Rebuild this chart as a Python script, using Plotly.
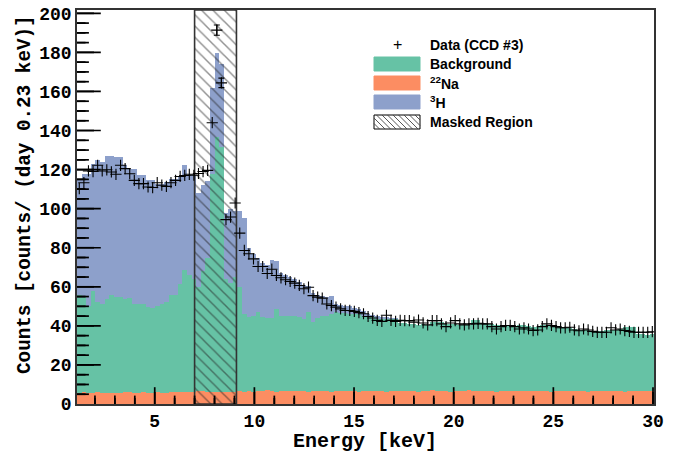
import numpy as np
import plotly.graph_objects as go

# ---------------- data ----------------
E_MIN = 1.1          # keV, lower edge of first bin
BIN_WIDTH = 0.23     # keV
X_MAX = 30.05
Y_MAX = 201.7
MASK_LO, MASK_HI = 7.0, 9.1   # masked energy region (keV)

# measured counts (CCD #3), one value per bin
data_counts = [
    110.3, 113.3, 119.3, 119.0, 122.2, 119.3, 119.9, 118.8, 117.6, 122.2,
    120.5, 117.9, 114.5, 112.8, 112.8, 111.1, 110.8, 113.3, 112.0, 111.4,
    113.3, 114.5, 116.5, 117.0, 117.6, 117.1, 118.0, 119.0, 119.6, 144.0,
    191.4, 164.4, 94.4, 95.7, 102.9, 87.5, 78.6, 76.9, 74.3, 70.4,
    70.4, 66.8, 69.0, 65.8, 64.6, 63.6, 62.7, 61.9, 60.7, 59.0,
    59.8, 55.5, 54.7, 54.2, 51.2, 50.4, 49.6, 48.7, 47.9, 47.9,
    47.4, 46.8, 46.2, 44.8, 44.0, 42.8, 42.3, 45.4, 42.8, 42.3,
    42.8, 42.7, 42.7, 41.9, 43.0, 41.5, 40.5, 42.7, 42.7, 41.0,
    39.6, 41.5, 42.7, 41.0, 40.5, 41.0, 41.0, 41.3, 41.0, 41.0,
    39.6, 38.4, 39.6, 40.2, 40.2, 39.6, 38.4, 39.0, 38.4, 37.6,
    37.9, 39.6, 41.0, 40.2, 39.6, 39.0, 39.0, 39.3, 37.9, 37.5,
    38.4, 37.9, 37.2, 36.7, 36.7, 36.7, 39.0, 37.9, 38.4, 37.6,
    37.2, 36.7, 36.7, 36.7, 36.7, 37.0,
]

# stacked model levels: 22Na (bottom), 22Na+Background, 22Na+Background+3H (top)
na22_level = [
    5.6, 5.9, 5.7, 5.5, 5.9, 5.8, 5.6, 5.8, 5.5, 5.7,
    6.0, 6.4, 5.7, 5.8, 5.9, 5.6, 5.7, 5.9, 5.8, 5.7,
    6.0, 6.3, 6.2, 6.1, 5.9, 6.3, 6.5, 6.6, 6.3, 6.0,
    6.4, 6.2, 6.0, 6.1, 6.3, 6.5, 6.4, 6.6, 6.3, 6.8,
    6.5, 7.0, 6.6, 6.4, 6.9, 6.7, 6.5, 6.8, 6.6, 6.9,
    6.4, 6.7, 6.5, 6.8, 6.6, 6.3, 6.7, 6.9, 6.5, 6.6,
    6.8, 6.4, 6.7, 6.6, 6.9, 6.5, 6.7, 6.4, 6.8, 6.6,
    6.5, 6.8, 6.6, 6.9, 6.4, 6.7, 6.6, 7.0, 6.5, 6.8,
    6.6, 6.4, 6.9, 6.7, 6.5, 7.3, 6.8, 6.6, 6.9, 6.5,
    6.7, 6.4, 6.8, 6.6, 6.9, 6.5, 6.7, 6.6, 6.8, 6.5,
    6.8, 6.6, 6.9, 6.4, 6.7, 6.5, 6.8, 6.6, 6.9, 6.5,
    6.7, 6.4, 6.8, 6.6, 6.9, 6.5, 6.7, 6.6, 6.8, 6.4,
    6.7, 6.5, 6.8, 6.6, 6.9, 6.7,
]

background_level = [
    56.0, 55.0, 50.0, 58.0, 52.0, 51.0, 53.8, 56.0, 55.0, 54.7,
    54.0, 54.4, 51.3, 51.0, 51.0, 49.6, 49.4, 50.0, 51.0, 52.0,
    55.6, 56.0, 61.5, 68.4, 65.8, 64.0, 60.0, 68.0, 75.0, 118.0,
    136.5, 131.5, 64.0, 61.7, 65.0, 60.0, 46.0, 44.5, 45.0, 47.0,
    44.5, 44.0, 44.0, 48.5, 45.0, 45.0, 44.8, 44.8, 44.5, 43.6,
    47.0, 42.0, 44.0, 45.0, 45.2, 46.0, 47.0, 46.5, 46.5, 46.0,
    45.9, 45.9, 44.8, 44.4, 44.4, 43.6, 43.6, 43.6, 43.6, 43.5,
    41.5, 41.5, 41.0, 41.0, 40.5, 41.0, 40.5, 42.0, 42.0, 42.0,
    41.0, 41.0, 41.0, 40.5, 40.5, 40.5, 43.0, 43.0, 41.5, 41.0,
    41.0, 40.5, 40.5, 40.0, 40.0, 40.0, 40.5, 40.5, 40.0, 39.5,
    39.3, 40.2, 40.2, 40.0, 39.3, 39.3, 39.0, 38.9, 38.5, 37.9,
    37.9, 37.8, 37.6, 37.6, 37.5, 37.8, 37.9, 38.0, 38.5, 39.3,
    39.5, 39.6, 36.0, 35.8, 35.5, 35.8,
]

tritium_level = [
    114.5, 117.6, 117.6, 123.0, 124.8, 124.0, 126.8, 126.8, 126.5, 126.5,
    122.2, 120.5, 120.5, 117.0, 117.0, 114.5, 114.5, 112.8, 112.8, 113.7,
    115.4, 115.4, 116.0, 122.2, 117.0, 117.0, 108.0, 112.0, 114.0, 162.0,
    179.5, 174.0, 98.0, 100.0, 99.0, 99.0, 95.0, 80.0, 77.0, 75.0,
    72.0, 71.0, 73.5, 73.0, 67.0, 66.0, 65.0, 64.0, 62.5, 61.0,
    60.5, 57.0, 56.0, 55.5, 55.0, 55.5, 51.0, 50.5, 50.0, 50.0,
    49.0, 48.5, 47.5, 46.0, 45.5, 45.0, 44.5, 44.5, 44.0, 43.8,
    41.5, 41.5, 41.0, 41.0, 40.5, 41.0, 40.5, 42.0, 42.0, 42.0,
    41.0, 41.0, 41.0, 40.5, 40.5, 40.5, 43.0, 43.0, 41.5, 41.0,
    41.0, 40.5, 40.5, 40.0, 40.0, 40.0, 40.5, 40.5, 40.0, 39.5,
    39.3, 40.2, 40.2, 40.0, 39.3, 39.3, 39.0, 38.9, 38.5, 37.9,
    37.9, 37.8, 37.6, 37.6, 37.5, 37.8, 37.9, 38.0, 38.5, 39.3,
    39.5, 39.6, 36.0, 35.8, 35.5, 35.8,
]

EXPOSURE_SCALE = 28.0   # counts -> rate scale used for Poisson error bars

# axis tick positions
X_MAJOR = [5, 10, 15, 20, 25, 30]
X_MINOR = [v for v in range(2, 31) if v not in X_MAJOR]
Y_MAJOR = list(range(20, 201, 20))
Y_MINOR = [v for v in range(5, 201, 5) if v % 20 != 0]

n_bins = len(data_counts)
assert n_bins == len(na22_level) == len(background_level) == len(tritium_level)

centers = E_MIN + BIN_WIDTH * (np.arange(n_bins) + 0.5)
counts_arr = np.array(data_counts)
data_err = np.sqrt(counts_arr / EXPOSURE_SCALE)

W, H = 688, 454
L, R, T, B = 77, 654, 10, 404
PX_PER_Y = (B - T) / Y_MAX
MARKER_SIZE = 8
big_err = data_err * PX_PER_Y > MARKER_SIZE / 2 + 0.5   # error bars sticking out of the marker

C_BKG = "#66c2a5"
C_NA = "#fc8d62"
C_H3 = "#8da0cb"
FRAME = "#333333"
TICK_W = 1.7

fig = go.Figure()
for lvl, col in ((tritium_level, C_H3), (background_level, C_BKG), (na22_level, C_NA)):
    fig.add_trace(go.Bar(x=centers, y=lvl, width=BIN_WIDTH, marker=dict(color=col, line=dict(width=0)),
                         opacity=1, showlegend=False, hoverinfo="skip"))

fig.add_trace(go.Scatter(
    x=[MASK_LO, MASK_HI, MASK_HI, MASK_LO, MASK_LO], y=[0, 0, Y_MAX, Y_MAX, 0],
    mode="lines", fill="toself", fillcolor="rgba(0,0,0,0)",
    fillpattern=dict(shape="\\", size=8, solidity=0.18, fgcolor="#222", bgcolor="rgba(0,0,0,0)"),
    line=dict(color=FRAME, width=1.6), showlegend=False, hoverinfo="skip"))

# ROOT-style tick marks inside the frame: line markers centred on the axis, outer half clipped
def tick_trace(xs, ys, symbol, inner_len):
    return go.Scatter(x=xs, y=ys, mode="markers", cliponaxis=True,
                      marker=dict(symbol=symbol, size=2 * inner_len, color="black",
                                  line=dict(width=TICK_W, color="black")),
                      showlegend=False, hoverinfo="skip")

fig.add_trace(tick_trace(X_MINOR, [0] * len(X_MINOR), "line-ns", 6))
fig.add_trace(tick_trace(X_MAJOR, [0] * len(X_MAJOR), "line-ns", 12))
fig.add_trace(tick_trace([E_MIN] * len(Y_MINOR), Y_MINOR, "line-ew", 8.5))
fig.add_trace(tick_trace([E_MIN] * len(Y_MAJOR), Y_MAJOR, "line-ew", 17))

fig.add_trace(go.Scatter(
    x=centers, y=data_counts, mode="markers",
    marker=dict(symbol="cross-thin", size=MARKER_SIZE, color="black", line=dict(width=1.1, color="black")),
    showlegend=False, hoverinfo="skip"))

fig.add_trace(go.Scatter(
    x=centers[big_err], y=counts_arr[big_err], mode="markers",
    marker=dict(size=1, color="rgba(0,0,0,0)"),
    error_y=dict(type="data", array=data_err[big_err], width=3, thickness=1.2, color="black"),
    showlegend=False, hoverinfo="skip"))

# ---------------- layout ----------------
def px(x):
    return (x - L) / (R - L)

def py(y):
    return (B - y) / (B - T)

tick_font = dict(family="Liberation Mono", size=18, color="black", weight="bold")
xtitle_font = dict(family="Liberation Mono", size=20, color="black", weight="bold")
ytitle_font = dict(family="Liberation Mono", size=19.3, color="black", weight="bold")

common = dict(showgrid=False, zeroline=False, automargin=False, showline=True, mirror=True,
              linecolor=FRAME, linewidth=1.6, tickfont=tick_font, ticks="")

fig.update_layout(
    width=W, height=H, margin=dict(l=L, r=W - R, t=T, b=H - B, autoexpand=False),
    paper_bgcolor="white", plot_bgcolor="white",
    barmode="overlay", bargap=0, showlegend=False,
    xaxis=dict(range=[E_MIN, X_MAX], tickvals=X_MAJOR, **common),
    yaxis=dict(range=[0, Y_MAX], tick0=0, dtick=20, **common),
)

shapes = []

# same tick marks again as paper-referenced line shapes (drawn above everything)
def x_frac(v):
    return (v - E_MIN) / (X_MAX - E_MIN)

for v in X_MINOR + X_MAJOR:
    ln = 12 if v in X_MAJOR else 6
    shapes.append(dict(type="line", xref="paper", yref="paper", x0=x_frac(v), x1=x_frac(v),
                       y0=0, y1=ln / (B - T), line=dict(color="black", width=TICK_W)))
for v in Y_MINOR + Y_MAJOR:
    ln = 17 if v in Y_MAJOR else 8.5
    shapes.append(dict(type="line", xref="paper", yref="paper", x0=0, x1=ln / (R - L),
                       y0=v / Y_MAX, y1=v / Y_MAX, line=dict(color="black", width=TICK_W)))

annotations = [
    dict(x=px(365), y=py(441), xref="paper", yref="paper", text="Energy [keV]", showarrow=False,
         font=xtitle_font, xanchor="center", yanchor="middle"),
    dict(x=px(25), y=py(195), xref="paper", yref="paper", text="Counts [counts/ (day 0.23 keV)]",
         showarrow=False, font=ytitle_font, textangle=-90, xanchor="center", yanchor="middle"),
]

# ---------------- manual legend ----------------
leg_font = dict(family="Liberation Sans", size=14, color="black", weight="bold")
TEXT_X = 428
SYM_X0, SYM_X1 = 374, 420

annotations.append(dict(x=px(397), y=py(45), xref="paper", yref="paper", text="+", showarrow=False,
                        font=dict(family="Liberation Sans", size=16, color="black"),
                        xanchor="center", yanchor="middle"))

entries = [
    ("Data (CCD #3)", 45, None),
    ("Background", 64, C_BKG),
    ("<sup>22</sup>Na", 83, C_NA),
    ("<sup>3</sup>H", 102, C_H3),
    ("Masked Region", 122, "hatch"),
]
for text, yc, sym in entries:
    annotations.append(dict(x=px(TEXT_X), y=py(yc), xref="paper", yref="paper", text=text,
                            showarrow=False, font=leg_font, xanchor="left", yanchor="middle"))
    if sym is None:
        continue
    y0, y1 = yc - 7, yc + 7
    if sym == "hatch":
        shapes.append(dict(type="rect", xref="paper", yref="paper", x0=px(SYM_X0), x1=px(SYM_X1),
                           y0=py(y1), y1=py(y0), line=dict(color="black", width=1), fillcolor="white"))
        h = y1 - y0
        for t in np.arange(-h, SYM_X1 - SYM_X0, 5.5):
            sx, sy = SYM_X0 + t, y0
            ex, ey = SYM_X0 + t + h, y1
            if sx < SYM_X0:
                sy += SYM_X0 - sx
                sx = SYM_X0
            if ex > SYM_X1:
                ey -= ex - SYM_X1
                ex = SYM_X1
            if ex - sx < 0.5:
                continue
            shapes.append(dict(type="line", xref="paper", yref="paper", x0=px(sx), y0=py(sy),
                               x1=px(ex), y1=py(ey), line=dict(color="#444", width=0.9)))
    else:
        shapes.append(dict(type="rect", xref="paper", yref="paper", x0=px(SYM_X0), x1=px(SYM_X1),
                           y0=py(y1), y1=py(y0), line=dict(color=sym, width=1), fillcolor=sym))

fig.update_layout(shapes=shapes, annotations=annotations)
fig.write_html("out.html", config={"displayModeBar": False},
               post_script="document.body.style.margin='0px';")
